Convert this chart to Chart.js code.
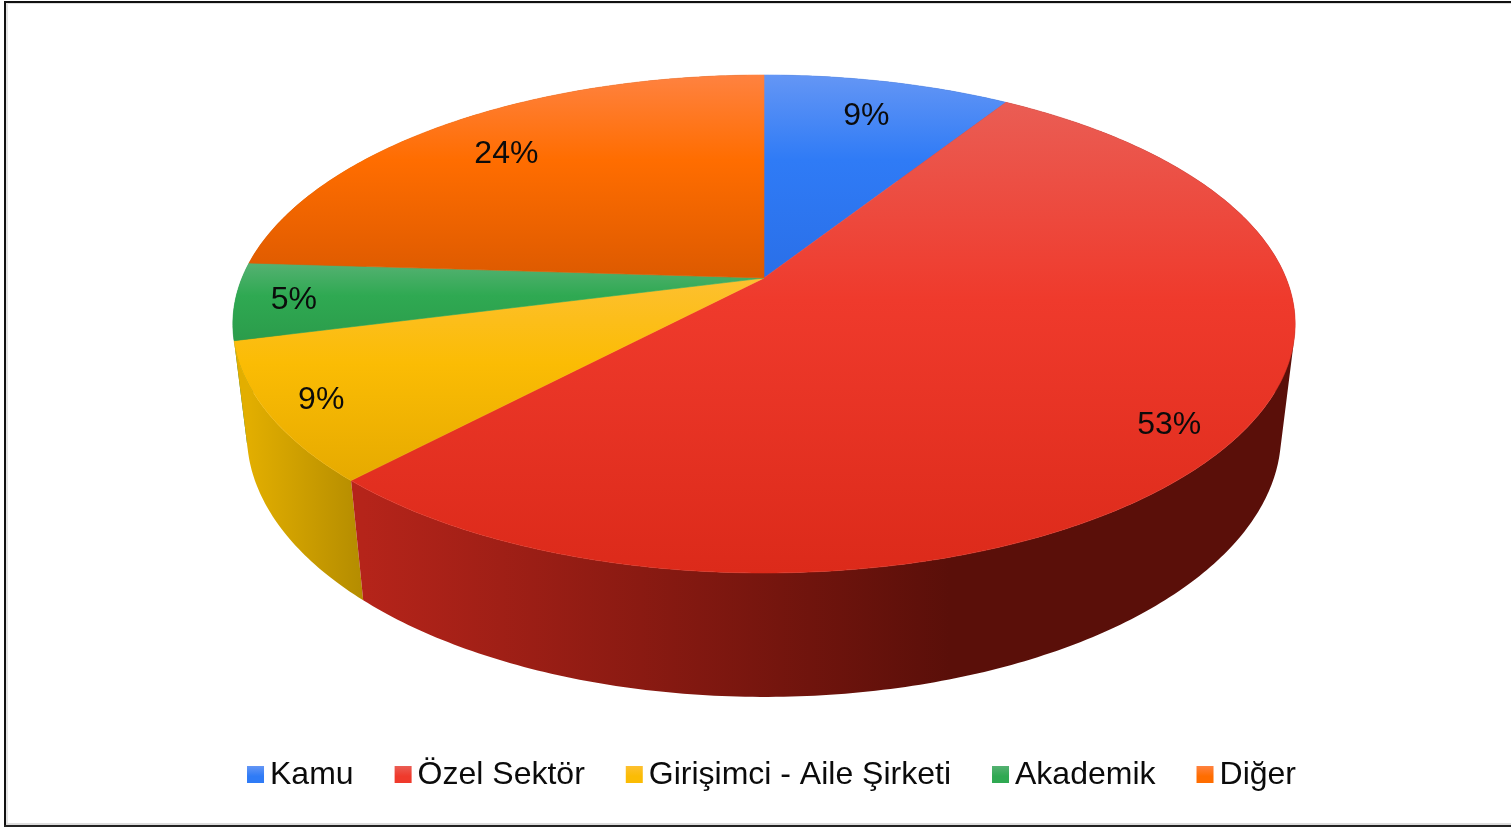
<!DOCTYPE html>
<html>
<head>
<meta charset="utf-8">
<title>Pie</title>
<script src="https://cdn.jsdelivr.net/npm/chart.js@4/dist/chart.umd.js"></script>
<style>
  html, body { margin: 0; padding: 0; background: #fff; overflow: hidden; }
  #wrap { position: relative; width: 1511px; height: 827px; }
  #pie { position: absolute; left: 0; top: 0; }
  .line { position: absolute; }
</style>
</head>
<body>
<div id="wrap">
  <canvas id="pie" width="1511" height="827"></canvas>
  <div class="line" style="left:4px;top:1px;width:1507px;height:2px;background:#111"></div>
  <div class="line" style="left:6px;top:3px;width:1505px;height:1px;background:#ddd"></div>
  <div class="line" style="left:4px;top:1px;width:2px;height:826px;background:#111"></div>
  <div class="line" style="left:6px;top:3px;width:2px;height:820px;background:#e4e4e4"></div>
  <div class="line" style="left:6px;top:823px;width:1505px;height:2px;background:#ddd"></div>
  <div class="line" style="left:4px;top:825px;width:1507px;height:2px;background:#222"></div>
</div>
<script>
const categories = ['Kamu', 'Özel Sektör', 'Girişimci - Aile Şirketi', 'Akademik', 'Diğer']
const shares = [9, 53, 9, 5, 24]

// light edge, plain colour, shaded edge of the top face
const topColors = [
  ['#6496f5', '#2f7bf6', '#2a6fe8'],
  ['#ea5d54', '#ef3a2c', '#dc2a1a'],
  ['#fdc030', '#fbbc04', '#e6aa00'],
  ['#55b172', '#2fa952', '#2b9c4b'],
  ['#ff8240', '#ff6d00', '#dd5a00'],
]
// side wall, left to right, and where along its width it reaches the dark end
const wallColors = [
  ['#1d4e9e', '#143a78'],
  ['#b5241a', '#5a0f09'],
  ['#e2ae00', '#b48c00'],
  ['#1f7a3c', '#17602f'],
  ['#b34c00', '#8a3a00'],
]
const wallFade = [1, 0.64, 1, 1, 1]
// how far out along the slice each % label sits (1 = rim)
const labelRadius = [0.812, 0.886, 0.9, 0.889, 0.795]

// the pie is a flat circle seen in perspective
const view = { cx: 764, cy: 278, a: 522, b: 240.5, k: -0.1847, m: 0.0262, c: 112 }
const labelFont = '32px "Liberation Sans", Arial, sans-serif'

function project(angle, r, z) {
  const u = Math.cos(angle) * r
  const v = Math.sin(angle) * r
  const d = 1 + view.k * v + view.m * z
  return {
    x: view.cx + view.a * u / d,
    y: view.cy + (view.b * v + view.c * z) / d,
  }
}

function arcPoints(start, end, z) {
  const pts = []
  const steps = Math.max(8, Math.ceil((end - start) * 80))
  for (let i = 0; i <= steps; i++) {
    pts.push(project(start + (end - start) * i / steps, 1, z))
  }
  return pts
}

function tracePath(ctx, pts) {
  ctx.beginPath()
  addPolygon(ctx, pts)
}

function addPolygon(ctx, pts) {
  pts.forEach((p, i) => (i ? ctx.lineTo(p.x, p.y) : ctx.moveTo(p.x, p.y)))
  ctx.closePath()
}

// all wall pieces wound the same way, so one fill leaves no seams
function addQuad(ctx, quad) {
  let area = 0
  quad.forEach((p, i) => {
    const q = quad[(i + 1) % quad.length]
    area += p.x * q.y - q.x * p.y
  })
  addPolygon(ctx, area < 0 ? quad.slice().reverse() : quad)
}

const pie3d = {
  id: 'pie3d',
  // Chart.js works out the slice angles, we only draw them tilted
  beforeDatasetDraw(chart, args) {
    const ctx = chart.ctx
    const arcs = chart.getDatasetMeta(args.index).data
    const order = arcs.map((el, i) => i).sort((p, q) => {
      return Math.sin((arcs[p].startAngle + arcs[p].endAngle) / 2) -
        Math.sin((arcs[q].startAngle + arcs[q].endAngle) / 2)
    })

    ctx.save()
    // walls first, the top face covers whatever is behind it
    order.forEach((i) => {
      const top = arcPoints(arcs[i].startAngle, arcs[i].endAngle, 0)
      const bottom = arcPoints(arcs[i].startAngle, arcs[i].endAngle, 1)
      // only the front part of the rim decides the shading
      const front = bottom.filter((p) => p.y > view.cy + view.c)
      const xs = (front.length > 1 ? front : bottom).map((p) => p.x)
      const left = Math.min(...xs)
      const right = Math.max(...xs)
      const grad = ctx.createLinearGradient(left, 0, left + (right - left) * wallFade[i], 0)
      grad.addColorStop(0, wallColors[i][0])
      grad.addColorStop(1, wallColors[i][1])
      ctx.beginPath()
      for (let n = 0; n < top.length - 1; n++) {
        addQuad(ctx, [top[n], top[n + 1], bottom[n + 1], bottom[n]])
      }
      ctx.fillStyle = grad
      ctx.fill('nonzero')
    })

    arcs.forEach((el, i) => {
      const pts = arcPoints(el.startAngle, el.endAngle, 0)
      pts.push(project(0, 0, 0))
      const ys = pts.map((p) => p.y)
      const grad = ctx.createLinearGradient(0, Math.min(...ys), 0, Math.max(...ys))
      grad.addColorStop(0, topColors[i][0])
      grad.addColorStop(0.42, topColors[i][1])
      grad.addColorStop(1, topColors[i][2])
      tracePath(ctx, pts)
      ctx.fillStyle = grad
      ctx.strokeStyle = grad
      ctx.lineWidth = 0.6
      ctx.fill()
      ctx.stroke()
    })

    ctx.font = labelFont
    ctx.fillStyle = '#0b0b0b'
    ctx.textAlign = 'center'
    ctx.textBaseline = 'middle'
    arcs.forEach((el, i) => {
      const p = project((el.startAngle + el.endAngle) / 2, labelRadius[i], 0)
      ctx.fillText(shares[i] + '%', p.x - 1, p.y + 2)
    })
    ctx.restore()
    return false
  },
  afterDraw(chart) {
    const ctx = chart.ctx
    const boxSize = 17
    const boxGap = 6
    const itemGap = 41
    ctx.save()
    ctx.font = labelFont
    ctx.textBaseline = 'alphabetic'
    ctx.textAlign = 'left'
    const widths = categories.map((c) => ctx.measureText(c).width)
    const total = widths.reduce((s, w) => s + w + boxSize + boxGap, 0) + itemGap * (categories.length - 1)
    let x = 771.5 - total / 2
    categories.forEach((c, i) => {
      const grad = ctx.createLinearGradient(0, 766, 0, 783)
      grad.addColorStop(0, topColors[i][0])
      grad.addColorStop(0.6, topColors[i][1])
      ctx.fillStyle = grad
      ctx.fillRect(x, 766, boxSize, boxSize)
      ctx.fillStyle = '#0b0b0b'
      ctx.fillText(c, x + boxSize + boxGap, 784)
      x += boxSize + boxGap + widths[i] + itemGap
    })
    ctx.restore()
  },
}

const mainChart = new Chart(document.getElementById('pie'), {
  type: 'pie',
  data: {
    labels: categories,
    datasets: [
      {
        data: shares,
        backgroundColor: topColors.map((c) => c[1]),
        borderWidth: 0,
      },
    ],
  },
  options: {
    responsive: false,
    animation: false,
    plugins: {
      legend: {
        display: false,
      },
      tooltip: {
        enabled: false,
      },
    },
  },
  plugins: [pie3d],
})
</script>
</body>
</html>
